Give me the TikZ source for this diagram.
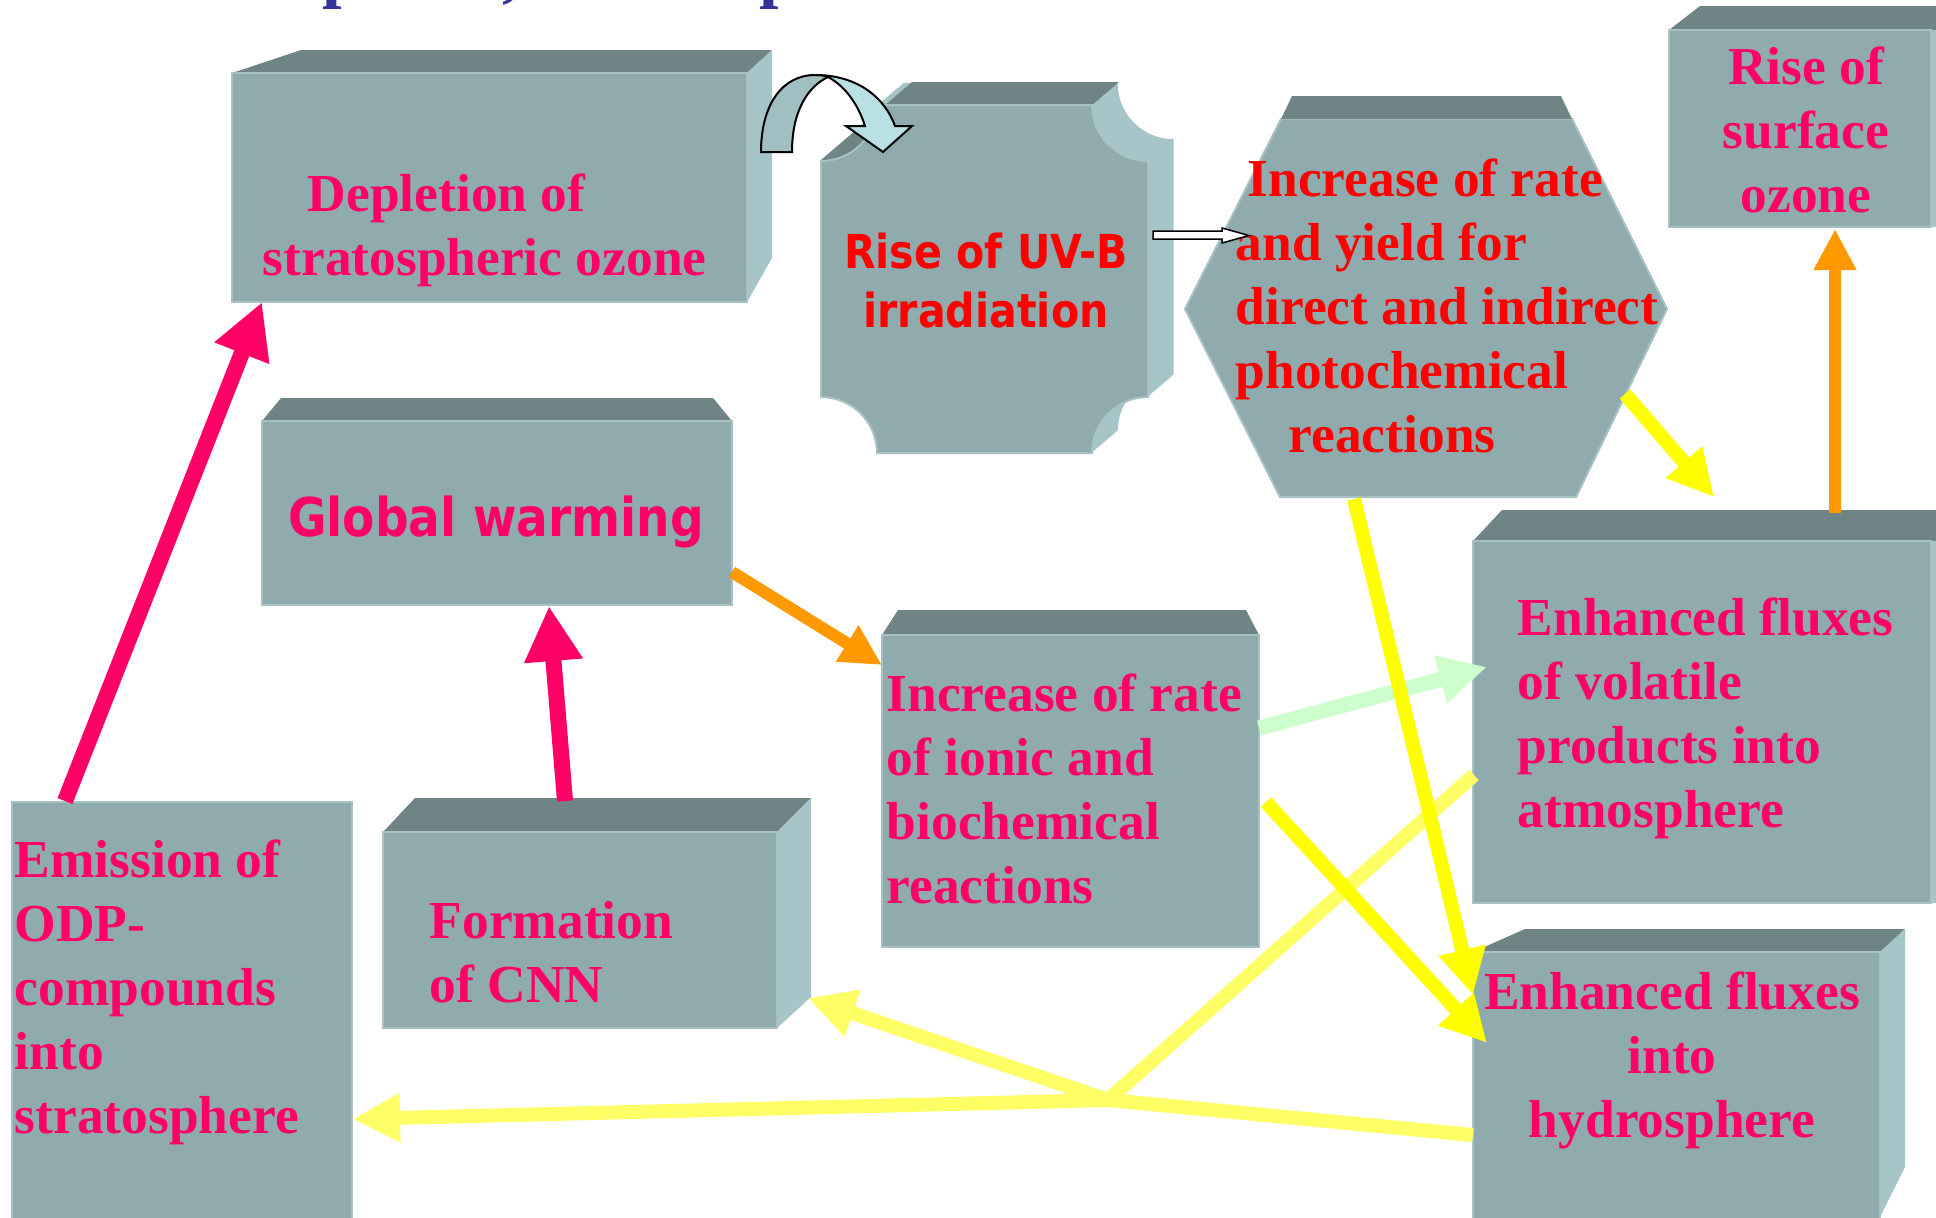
\documentclass[tikz,border=0pt]{standalone}
\usepackage{fontspec}
\setmainfont{Liberation Serif}
\newfontfamily\uvbfont[FakeStretch=0.88]{DejaVu Sans}
\usetikzlibrary{arrows.meta}
\definecolor{boxfront}{RGB}{144,171,173}
\definecolor{boxtop}{RGB}{111,133,133}
\definecolor{boxside}{RGB}{166,197,201}
\definecolor{boxedge}{RGB}{168,194,196}
\definecolor{pinktext}{RGB}{255,0,102}
\definecolor{titleblue}{RGB}{51,51,153}
\definecolor{arroworange}{RGB}{255,153,0}
\definecolor{arrowyellow}{RGB}{255,255,0}
\definecolor{paleyellow}{RGB}{255,255,102}
\definecolor{palegreen}{RGB}{204,255,204}
\definecolor{turnleft}{RGB}{160,191,194}
\definecolor{turnright}{RGB}{185,224,228}

\begin{document}
\begin{tikzpicture}[x=0.01cm,y=-0.01cm,
        front/.style={fill=boxfront, draw=boxedge, line width=0.02cm},
        top/.style={fill=boxtop},
        side/.style={fill=boxside},
        serif/.style={font=\fontsize{15.2}{18.2}\selectfont\bfseries, inner sep=0pt},
        uvbtext/.style={font=\uvbfont\fontsize{13.3}{16.5}\selectfont\bfseries, inner sep=0pt},
        globtext/.style={font=\uvbfont\fontsize{15.2}{18}\selectfont\bfseries, inner sep=0pt},
        titletext/.style={font=\fontsize{20}{24}\selectfont\bfseries, titleblue, inner sep=0pt, anchor=base west},
        pinkarrow/.style={draw=pinktext, line width=0.16cm, -{Triangle[length=0.55cm,width=0.55cm]}},
        orangearrow/.style={draw=arroworange, line width=0.12cm, -{Triangle[length=0.41cm,width=0.40cm]}},
        yellowarrow/.style={draw=arrowyellow, line width=0.14cm, -{Triangle[length=0.46cm,width=0.45cm]}},
        greenarrow/.style={draw=palegreen, line width=0.15cm, -{Triangle[length=0.48cm,width=0.46cm]}},
        palearrow/.style={draw=paleyellow, line width=0.14cm, line join=round, -{Triangle[length=0.47cm,width=0.46cm]}}]
        \useasboundingbox (0,0) rectangle (1936,1217);
        \clip (0,0) rectangle (1936,1217);
        % title cut off at the top
        \node[titletext] (title-a) at (322,-6) {p};
        \node[titletext] (title-b) at (502,-6) {,};
        \node[titletext] (title-c) at (759,-6) {p};
        % depletion
        \fill[top] (232,73) -- (301,50) -- (772,50) -- (747,73) -- cycle;
        \fill[side] (747,73) -- (772,50) -- (772,258) -- (747,302) -- cycle;
        \filldraw[front] (232,73) rectangle (747,302);
        \node[serif, pinktext, align=left, anchor=base west] (depl) at (262,275) {\hspace*{0.45cm}Depletion of\\stratospheric ozone};
        % uv-b plaque
        \foreach \t in {0,0.05,...,1}
            \fill[side, shift={(27*\t,-23*\t)}] (821,161) .. controls (852,161) and (877,136) .. (877,105) -- (1092,105) .. controls (1092,136) and (1117,161) .. (1148,161) -- (1148,397) .. controls (1117,397) and (1092,422) .. (1092,453) -- (877,453) .. controls (877,422) and (852,397) .. (821,397) -- cycle;
        \fill[top] (821,160) -- (912,82) -- (1119,82) -- (1092,105) -- (877,105) .. controls (877,136) and (852,161) .. (821,161) -- cycle;
        \filldraw[front] (821,161) .. controls (852,161) and (877,136) .. (877,105) -- (1092,105) .. controls (1092,136) and (1117,161) .. (1148,161) -- (1148,397) .. controls (1117,397) and (1092,422) .. (1092,453) -- (877,453) .. controls (877,422) and (852,397) .. (821,397) -- cycle;
        \node[uvbtext, red, align=center, anchor=base] (uvb) at (986,327) {Rise of UV-B\\irradiation};
        % turn arrow
        \filldraw[fill=turnleft, draw=black, line width=0.02cm] (761,152) -- (792,152) .. controls (792,112) and (807,87) .. (828,77) .. controls (824,75) and (819,75) .. (815,75) .. controls (782,75) and (761,105) .. (761,152) -- cycle;
        \filldraw[fill=turnright, draw=black, line width=0.02cm] (815,75) .. controls (858,75) and (885,98) .. (895,126) -- (912,126) -- (883,152) -- (846,126) -- (865,126) .. controls (858,104) and (845,86) .. (828,77) .. controls (824,75) and (819,75) .. (815,75) -- cycle;
        % hexagon
        \filldraw[front] (1185,309) -- (1281,119) -- (1572,119) -- (1667,309) -- (1576,497) -- (1280,497) -- cycle;
        \fill[top] (1281,119) -- (1292,96) -- (1561,96) -- (1572,119) -- cycle;
        \node[serif, red, align=left, anchor=base west] (hex) at (1235,452) {\hspace*{0.12cm}Increase of rate\\and yield for\\direct and indirect\\photochemical\\\hspace*{0.53cm}reactions};
        \coordinate (uvb-out) at (1153,231);
        \filldraw[fill=white, draw=black, line width=0.015cm] (uvb-out) -- ++(69,0) -- ++(0,-3) -- ++(27,7.5) -- ++(-27,7.5) -- ++(0,-4) -- ++(-69,0) -- cycle;
        % surface ozone
        \fill[top] (1669,30) -- (1700,6) -- (1940,6) -- (1940,30) -- cycle;
        \fill[side] (1931,30) rectangle (1940,227);
        \filldraw[front] (1669,30) rectangle (1931,227);
        \node[serif, pinktext, align=center, anchor=base] (ozone) at (1806,212) {Rise of\\surface\\ozone};
        % global warming
        \fill[top] (262,421) -- (281,398) -- (713,398) -- (732,421) -- cycle;
        \filldraw[front] (262,421) rectangle (732,605);
        \node[globtext, pinktext, anchor=base] (glob) at (496,536) {Global warming};
        % emission
        \filldraw[front] (12,802) rectangle (352,1240);
        \node[serif, pinktext, align=left, anchor=base west] (emis) at (14,1133) {Emission of\\ODP-\\compounds\\into\\stratosphere};
        % cnn
        \fill[top] (383,832) -- (415,798) -- (811,798) -- (777,832) -- cycle;
        \fill[side] (777,832) -- (811,798) -- (811,997) -- (777,1028) -- cycle;
        \filldraw[front] (383,832) rectangle (777,1028);
        \node[serif, pinktext, align=left, anchor=base west] (cnn) at (429,1002) {Formation\\of CNN};
        % ionic
        \fill[top] (882,635) -- (898,610) -- (1246,610) -- (1259,635) -- cycle;
        \filldraw[front] (882,635) rectangle (1259,947);
        \node[serif, pinktext, align=left, anchor=base west] (ionic) at (886,903) {Increase of rate\\of ionic and\\biochemical\\reactions};
        % volatile
        \fill[top] (1473,541) -- (1502,510) -- (1940,510) -- (1940,541) -- cycle;
        \fill[side] (1931,541) rectangle (1940,903);
        \filldraw[front] (1473,541) rectangle (1931,903);
        \node[serif, pinktext, align=left, anchor=base west] (vol) at (1517,827) {Enhanced fluxes\\of volatile\\products into\\atmosphere};
        % hydrosphere
        \fill[top] (1473,952) -- (1525,929) -- (1905,929) -- (1880,952) -- cycle;
        \fill[side] (1880,952) -- (1905,929) -- (1905,1167) -- (1880,1217) -- cycle;
        \filldraw[front] (1473,952) rectangle (1880,1240);
        \node[serif, pinktext, align=center, anchor=base] (hydro) at (1672,1137) {Enhanced fluxes\\into\\hydrosphere};
        % arrow ends
        \coordinate (emis-out) at (65,801);
        \coordinate (depl-in) at (262,302);
        \coordinate (cnn-out) at (565,801);
        \coordinate (glob-in) at (549,606);
        \coordinate (glob-out) at (732,572);
        \coordinate (ionic-in) at (882,665);
        \coordinate (vol-up) at (1835,513);
        \coordinate (ozone-in) at (1835,229);
        \coordinate (hex-out1) at (1625,394);
        \coordinate (vol-in1) at (1714,497);
        \coordinate (hex-out2) at (1354,499);
        \coordinate (hydro-in1) at (1473,995);
        \coordinate (ionic-out1) at (1266,802);
        \coordinate (hydro-in2) at (1487,1043);
        \coordinate (ionic-out2) at (1259,728);
        \coordinate (vol-in2) at (1487,667);
        \coordinate (vol-out) at (1474,775);
        \coordinate (hydro-out) at (1473,1135);
        \coordinate (junction) at (1108,1100);
        \coordinate (cnn-in) at (808,998);
        \coordinate (emis-in) at (353,1119);
        % arrows
        \draw[pinkarrow] (emis-out) -- (depl-in);
        \draw[pinkarrow] (cnn-out) -- (glob-in);
        \draw[orangearrow] (glob-out) -- (ionic-in);
        \draw[orangearrow] (vol-up) -- (ozone-in);
        \draw[greenarrow] (ionic-out2) -- (vol-in2);
        \draw[palearrow] (vol-out) -- (junction) -- (emis-in);
        \draw[palearrow] (hydro-out) -- (junction) -- (cnn-in);
        \draw[yellowarrow] (hex-out1) -- (vol-in1);
        \draw[yellowarrow] (hex-out2) -- (hydro-in1);
        \draw[yellowarrow] (ionic-out1) -- (hydro-in2);
    \end{tikzpicture}
\end{document}
